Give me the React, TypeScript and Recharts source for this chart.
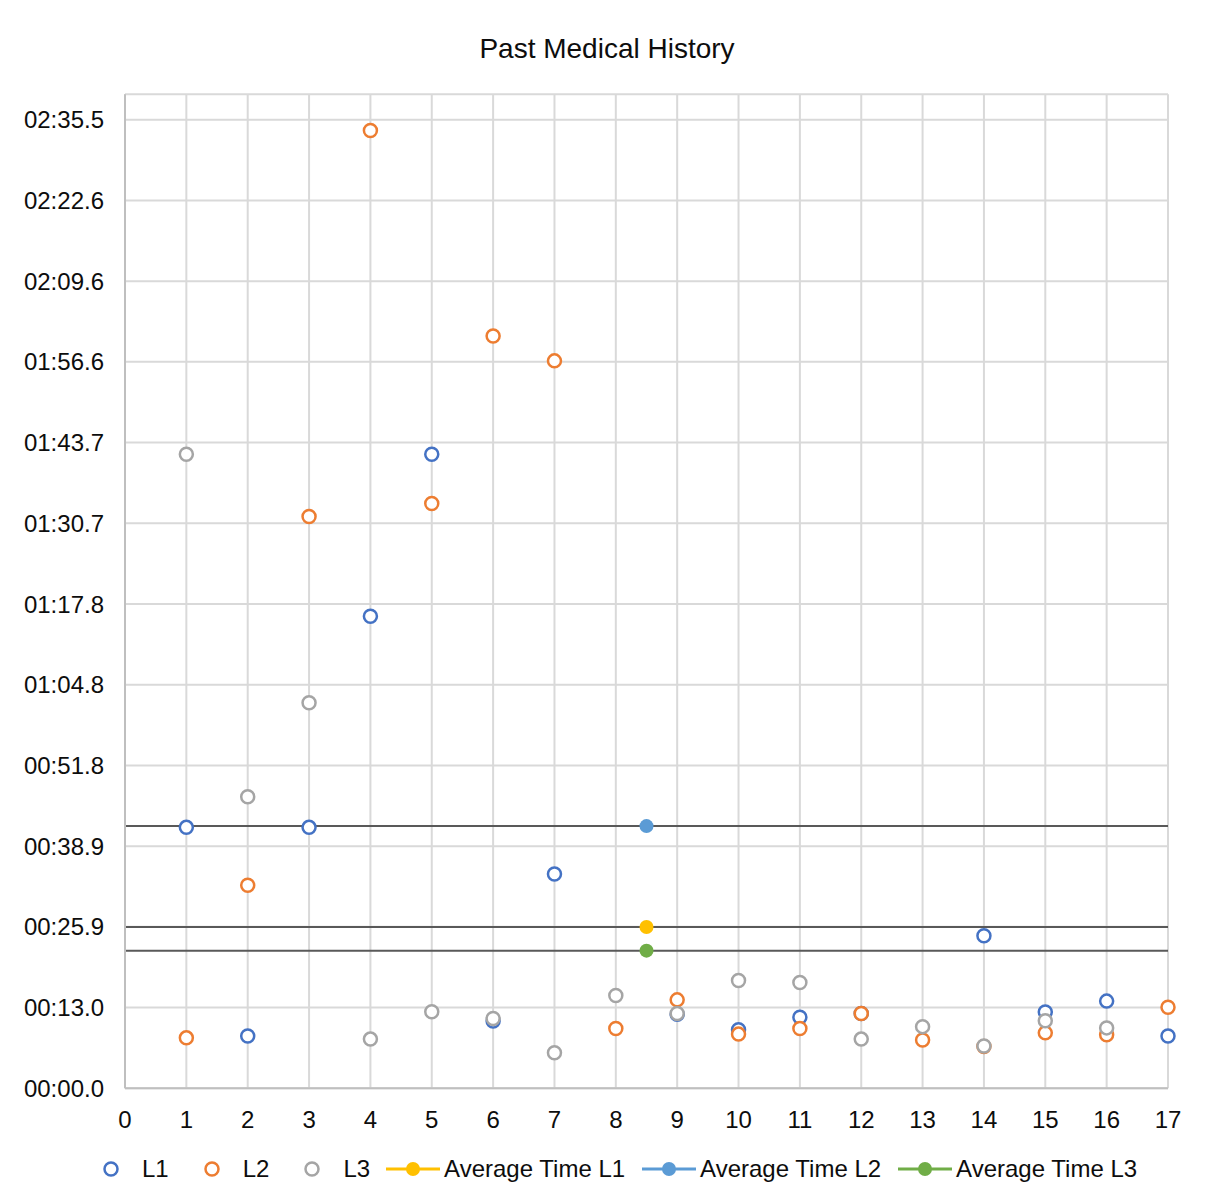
import React from 'react'
import { ScatterChart, Scatter, XAxis, YAxis, CartesianGrid, ErrorBar } from 'recharts'

// session number on the x axis, times in seconds
const sessions = [1, 2, 3, 4, 5, 6, 7, 8, 9, 10, 11, 12, 13, 14, 15, 16, 17]
const l1Times: (number | null)[] = [41.9, 8.4, 41.9, 75.8, 101.8, 10.8, 34.4, null, 11.9, 9.4, 11.4, 12.0, null, 24.5, 12.25, 14.0, 8.4]
const l2Times: (number | null)[] = [8.1, 32.6, 91.8, 153.8, 93.9, 120.8, 116.8, 9.6, 14.2, 8.7, 9.6, 12.0, 7.75, 6.7, 8.9, 8.6, 13.0]
const l3Times: (number | null)[] = [101.8, 46.8, 61.9, 7.9, 12.3, 11.2, 5.7, 14.9, 12.0, 17.3, 17.0, 7.9, 9.9, 6.8, 10.85, 9.7, null]

// averages: L1, L2, L3, plotted mid-axis with a bar running across the sessions
const averageTimes = [25.9, 42.1, 22.1]
const averageAt = 8.5
const averageReach = 8.5

const xTicks = [0, 1, 2, 3, 4, 5, 6, 7, 8, 9, 10, 11, 12, 13, 14, 15, 16, 17]
const yTicks = [0, 12.96, 25.92, 38.88, 51.84, 64.8, 77.76, 90.72, 103.68, 116.64, 129.6, 142.56, 155.52]
const yMax = 159.6

const FONT = '"Liberation Sans", Arial, sans-serif'
const TEXT = '#0d0d0d'

const levels = [
  { name: 'L1', times: l1Times, color: '#4472C4' },
  { name: 'L2', times: l2Times, color: '#ED7D31' },
  { name: 'L3', times: l3Times, color: '#A5A5A5' },
]
const averages = [
  { name: 'Average Time L1', color: '#FFC000' },
  { name: 'Average Time L2', color: '#5B9BD5' },
  { name: 'Average Time L3', color: '#70AD47' },
]

const toPoints = (times: (number | null)[]) =>
  sessions.map((x, i) => ({ x, y: times[i] })).filter((p) => p.y != null)

// mm:ss.s
const fmtTime = (s: number) => {
  const m = Math.floor(s / 60)
  const sec = (s - m * 60).toFixed(1).padStart(4, '0')
  return `${String(m).padStart(2, '0')}:${sec}`
}

const ring = (color: string) => (props: any) => (
  <circle cx={props.cx} cy={props.cy} r={6.5} fill="#fff" stroke={color} strokeWidth={2.5} />
)
const dot = (color: string) => (props: any) => (
  <circle cx={props.cx} cy={props.cy} r={7} fill={color} />
)

function LegendRow() {
  return (
    <div
      style={{
        position: 'absolute',
        top: 1145,
        left: 76,
        display: 'flex',
        alignItems: 'center',
        fontFamily: FONT,
        fontSize: 24,
        color: TEXT,
        height: 32,
      }}
    >
      {levels.map((l) => (
        <div key={l.name} style={{ display: 'flex', alignItems: 'center', marginRight: 16 }}>
          <svg width={54} height={20}>
            <circle cx={27} cy={10} r={6.5} fill="#fff" stroke={l.color} strokeWidth={2.5} />
          </svg>
          <span style={{ marginLeft: 4 }}>{l.name}</span>
        </div>
      ))}
      {averages.map((a) => (
        <div key={a.name} style={{ display: 'flex', alignItems: 'center', marginRight: 17 }}>
          <svg width={54} height={20}>
            <line x1={0} y1={10} x2={54} y2={10} stroke={a.color} strokeWidth={3} />
            <circle cx={27} cy={10} r={7} fill={a.color} />
          </svg>
          <span style={{ marginLeft: 4 }}>{a.name}</span>
        </div>
      ))}
    </div>
  )
}

export default function App() {
  return (
    <div
      style={{
        position: 'relative',
        width: 1200,
        height: 1200,
        margin: '-2px 0 0 -2px',
        border: '2px solid #cccccc',
        background: '#fff',
        overflow: 'hidden',
      }}
    >
      <div
        style={{
          position: 'absolute',
          top: 25,
          left: 0,
          width: 1198,
          textAlign: 'center',
          fontFamily: FONT,
          fontSize: 28,
          color: TEXT,
        }}
      >
        Past Medical History
      </div>
      <ScatterChart
        width={1197}
        height={1189}
        margin={{ top: 86.3, right: 37, bottom: 68.7, left: 0 }}
      >
        <CartesianGrid stroke="#d9d9d9" strokeWidth={2} />
        <XAxis
          type="number"
          dataKey="x"
          domain={[0, 17]}
          ticks={xTicks}
          interval={0}
          height={40}
          tickLine={false}
          tickSize={0}
          tickMargin={23}
          axisLine={{ stroke: '#bfbfbf', strokeWidth: 2 }}
          tick={{ fill: TEXT, fontSize: 24, fontFamily: FONT }}
        />
        <YAxis
          type="number"
          dataKey="y"
          domain={[0, yMax]}
          ticks={yTicks}
          interval={0}
          width={117}
          tickLine={false}
          tickSize={0}
          tickMargin={21}
          tickFormatter={fmtTime}
          axisLine={{ stroke: '#bfbfbf', strokeWidth: 2 }}
          tick={{ fill: TEXT, fontSize: 24, fontFamily: FONT }}
        />
        {levels.map((l) => (
          <Scatter
            key={l.name}
            name={l.name}
            data={toPoints(l.times)}
            shape={ring(l.color)}
            isAnimationActive={false}
          />
        ))}
        {averages.map((a, i) => (
          <Scatter
            key={a.name}
            name={a.name}
            data={[
              {
                x: averageAt,
                y: averageTimes[i],
                toStart: [averageReach, 0],
                toEnd: [0, averageReach],
              },
            ]}
            shape={dot(a.color)}
            isAnimationActive={false}
          >
            {/* capped at session 0, open toward the right edge */}
            <ErrorBar
              dataKey="toStart"
              direction="x"
              width={5}
              stroke="#595959"
              strokeWidth={2}
              isAnimationActive={false}
            />
            <ErrorBar
              dataKey="toEnd"
              direction="x"
              width={0}
              stroke="#595959"
              strokeWidth={2}
              isAnimationActive={false}
            />
          </Scatter>
        ))}
      </ScatterChart>
      <LegendRow />
    </div>
  )
}
